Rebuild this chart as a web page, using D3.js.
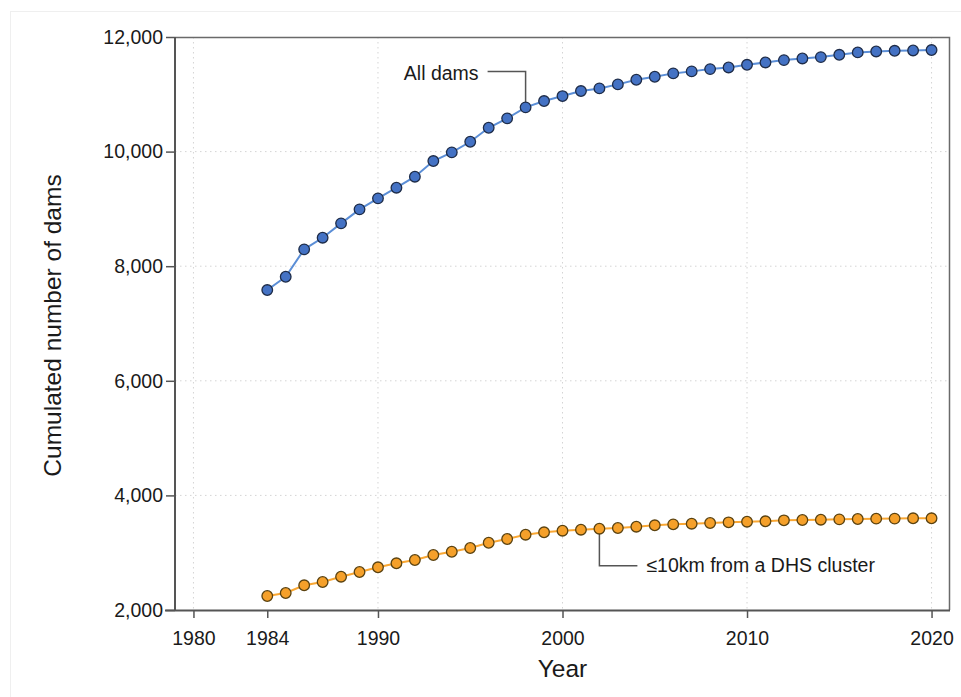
<!DOCTYPE html>
<html>
<head>
<meta charset="utf-8">
<script src="https://cdn.jsdelivr.net/npm/d3@7"></script>
<style>
  body { margin: 0; background: #fff; }
  .chart text { font-family: "Liberation Sans", Arial, sans-serif; fill: #1a1a1a; }
</style>
</head>
<body>
<div class="chart"></div>
<script>
// years 1984..2020
const years = d3.range(1984, 2021)
const allDams = [7584, 7816, 8294, 8497, 8748, 8992, 9184, 9370, 9562, 9835,
  9987, 10172, 10416, 10580, 10772, 10882, 10969, 11057, 11103, 11173,
  11254, 11306, 11365, 11400, 11440, 11469, 11515, 11556, 11597, 11626,
  11649, 11689, 11731, 11748, 11759, 11765, 11772]
const nearDhs = [2244, 2297, 2431, 2489, 2581, 2663, 2745, 2815, 2873, 2960,
  3017, 3082, 3174, 3239, 3314, 3356, 3384, 3401, 3419, 3431,
  3454, 3478, 3495, 3506, 3518, 3530, 3541, 3548, 3565, 3571,
  3576, 3582, 3588, 3594, 3595, 3600, 3600]
const xTicks = [1980, 1984, 1990, 2000, 2010, 2020]
const xGrid = [1980, 1990, 2000, 2010, 2020]
const yTicks = [2000, 4000, 6000, 8000, 10000, 12000]

const margin = {top: 37, right: 11, bottom: 87, left: 175}
const W = 961, H = 697
const width = W - margin.left - margin.right
const height = H - margin.top - margin.bottom

const root = d3.select(".chart").append("svg")
  .attr("width", W)
  .attr("height", H)

// faint outer frame of the original figure
root.append("rect")
  .attr("x", 10.5).attr("y", 11.5)
  .attr("width", W - 10).attr("height", H - 10)
  .attr("fill", "none")
  .attr("stroke", "#efefef")

const svg = root.append("g")
  .attr("transform", "translate(" + margin.left + "," + margin.top + ")")

const x = d3.scaleLinear().domain([1979, 2021]).range([0, width])
const y = d3.scaleLinear().domain([2000, 12000]).range([height, 0])

// gridlines
svg.append("g").selectAll("line")
  .data(yTicks.slice(1, -1))
  .enter().append("line")
  .attr("x1", 0).attr("x2", width)
  .attr("y1", d => y(d)).attr("y2", d => y(d))
  .attr("stroke", "#d4d4d4")
  .attr("stroke-dasharray", "1.5,3.5")

svg.append("g").selectAll("line")
  .data(xGrid)
  .enter().append("line")
  .attr("x1", d => x(d)).attr("x2", d => x(d))
  .attr("y1", 0).attr("y2", height)
  .attr("stroke", "#d4d4d4")
  .attr("stroke-dasharray", "1.5,3.5")

// plot frame (top and right)
svg.append("path")
  .attr("d", "M0,0.5H" + (width - 0.5) + "V" + height)
  .attr("fill", "none")
  .attr("stroke", "#6a6a6a")
  .attr("stroke-width", 1.5)

// axes
const xAxis = d3.axisBottom(x).tickValues(xTicks).tickFormat(d3.format("d"))
  .tickSize(8).tickPadding(13)
const yAxis = d3.axisLeft(y).tickValues(yTicks).tickFormat(d3.format(","))
  .tickSize(9).tickPadding(3)

const gx = svg.append("g")
  .attr("transform", "translate(0," + height + ")")
  .call(xAxis)
gx.select(".domain").attr("d", "M-10,0.5H" + width)
const gy = svg.append("g").call(yAxis)
gy.select(".domain").attr("d", "M0,0V" + height)

svg.selectAll(".domain").attr("stroke", "#555").attr("stroke-width", 2)
svg.selectAll(".tick line").attr("stroke", "#555").attr("stroke-width", 1.5)
svg.selectAll(".tick text").style("font-size", "19.5px")
  .attr("fill", "#1a1a1a")
  .style("font-family", "'Liberation Sans', Arial, sans-serif")

// axis titles
svg.append("text")
  .attr("x", x(2000))
  .attr("y", height + 67)
  .attr("text-anchor", "middle")
  .style("font-size", "24.5px")
  .text("Year")

svg.append("text")
  .attr("transform", "translate(" + (-114) + "," + (height / 2 + 2) + ") rotate(-90)")
  .attr("text-anchor", "middle")
  .style("font-size", "24.5px")
  .text("Cumulated number of dams")

// series
const series = [
  {vals: allDams, line: "#5b8ed6", fill: "#4472c4", stroke: "#1e2c48"},
  {vals: nearDhs, line: "#f9a733", fill: "#f5a02a", stroke: "#5a4210"}
]

const line = d3.line().x(d => x(d[0])).y(d => y(d[1]))

series.forEach(s => {
  const pts = years.map((yr, i) => [yr, s.vals[i]])
  svg.append("path")
    .datum(pts)
    .attr("d", line)
    .attr("fill", "none")
    .attr("stroke", s.line)
    .attr("stroke-width", 2)
  svg.append("g").selectAll("circle")
    .data(pts)
    .enter().append("circle")
    .attr("cx", d => x(d[0]))
    .attr("cy", d => y(d[1]))
    .attr("r", 5.3)
    .attr("fill", s.fill)
    .attr("stroke", s.stroke)
    .attr("stroke-width", 1.3)
})

// annotations
const aIdx = years.indexOf(1998)
const ax = x(1998), ay = y(allDams[aIdx])
svg.insert("path", "path")
  .attr("d", "M" + (ax - 38) + "," + y(11400) + "H" + ax + "V" + ay)
  .attr("fill", "none")
  .attr("stroke", "#555")
  .attr("stroke-width", 1.5)
svg.append("text")
  .attr("x", ax - 47)
  .attr("y", y(11400) + 8.5)
  .attr("text-anchor", "end")
  .style("font-size", "19.5px")
  .text("All dams")

const bIdx = years.indexOf(2002)
const bx = x(2002), by = y(nearDhs[bIdx])
svg.insert("path", "path")
  .attr("d", "M" + bx + "," + by + "V" + (y(3400) + 36) + "H" + (bx + 38))
  .attr("fill", "none")
  .attr("stroke", "#555")
  .attr("stroke-width", 1.5)
svg.append("text")
  .attr("x", bx + 47)
  .attr("y", y(3400) + 42.5)
  .style("font-size", "19.5px")
  .text("≤10km from a DHS cluster")
</script>
</body>
</html>
